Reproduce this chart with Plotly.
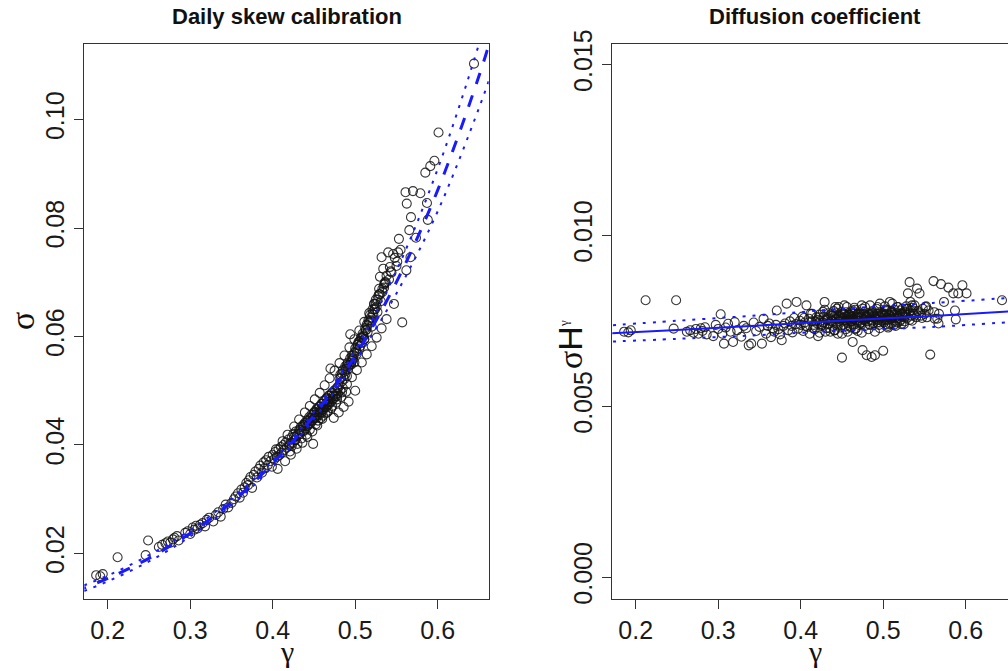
import plotly.graph_objects as go

# ---------------- data ----------------
# each point: gamma, sigma (left panel), sigma*H^gamma (right panel)
points = [
    (0.186, 0.0160, 0.00718), (0.191, 0.0158, 0.00716), (0.194, 0.0162, 0.00722),
    (0.212, 0.0193, 0.00810), (0.246, 0.0197, 0.00727), (0.249, 0.0224, 0.00810),
    (0.262, 0.0212, 0.00718), (0.266, 0.0216, 0.00722), (0.270, 0.0219, 0.00715),
    (0.273, 0.0222, 0.00726), (0.276, 0.0220, 0.00712), (0.279, 0.0226, 0.00728),
    (0.281, 0.0229, 0.00720), (0.284, 0.0232, 0.00731), (0.286, 0.0224, 0.00710),
    (0.294, 0.0238, 0.00705), (0.297, 0.0241, 0.00738), (0.300, 0.0236, 0.00726),
    (0.303, 0.0248, 0.00769), (0.305, 0.0244, 0.00712), (0.307, 0.0251, 0.00683),
    (0.309, 0.0246, 0.00730), (0.312, 0.0253, 0.00741), (0.315, 0.0256, 0.00718),
    (0.318, 0.0250, 0.00688), (0.320, 0.0262, 0.00746), (0.323, 0.0266, 0.00722),
    (0.328, 0.0259, 0.00703), (0.331, 0.0271, 0.00735), (0.334, 0.0276, 0.00728),
    (0.337, 0.0268, 0.00678), (0.340, 0.0282, 0.00683), (0.343, 0.0290, 0.00745),
    (0.346, 0.0285, 0.00720), (0.350, 0.0293, 0.00732), (0.353, 0.0300, 0.00683),
    (0.355, 0.0305, 0.00756), (0.358, 0.0311, 0.00712), (0.360, 0.0303, 0.00735),
    (0.362, 0.0318, 0.00742), (0.364, 0.0312, 0.00702), (0.366, 0.0322, 0.00728),
    (0.368, 0.0330, 0.00718), (0.370, 0.0326, 0.00738), (0.371, 0.0335, 0.00780),
    (0.373, 0.0341, 0.00725), (0.375, 0.0321, 0.00710), (0.377, 0.0345, 0.00693),
    (0.379, 0.0351, 0.00735), (0.381, 0.0340, 0.00742), (0.383, 0.0356, 0.00800),
    (0.385, 0.0362, 0.00722), (0.387, 0.0349, 0.00748), (0.389, 0.0368, 0.00735),
    (0.390, 0.0357, 0.00716), (0.392, 0.0372, 0.00758), (0.394, 0.0363, 0.00740),
    (0.395, 0.0378, 0.00805), (0.397, 0.0370, 0.00727), (0.399, 0.0360, 0.00750),
    (0.400, 0.0382, 0.00738), (0.402, 0.0374, 0.00762), (0.403, 0.0387, 0.00720),
    (0.405, 0.0378, 0.00745), (0.407, 0.0392, 0.00795), (0.408, 0.0381, 0.00732),
    (0.410, 0.0396, 0.00756), (0.411, 0.0386, 0.00712), (0.413, 0.0400, 0.00748),
    (0.414, 0.0391, 0.00770), (0.416, 0.0405, 0.00738), (0.417, 0.0395, 0.00725),
    (0.419, 0.0410, 0.00760), (0.420, 0.0399, 0.00742), (0.421, 0.0388, 0.00705),
    (0.423, 0.0414, 0.00768), (0.424, 0.0404, 0.00750), (0.425, 0.0420, 0.00735),
    (0.427, 0.0409, 0.00776), (0.428, 0.0425, 0.00745), (0.429, 0.0416, 0.00805),
    (0.430, 0.0402, 0.00718), (0.432, 0.0428, 0.00758), (0.433, 0.0420, 0.00740),
    (0.434, 0.0433, 0.00772), (0.435, 0.0412, 0.00728), (0.437, 0.0437, 0.00750),
    (0.438, 0.0426, 0.00765), (0.439, 0.0441, 0.00735), (0.440, 0.0430, 0.00778),
    (0.441, 0.0419, 0.00722), (0.442, 0.0446, 0.00755), (0.443, 0.0436, 0.00742),
    (0.444, 0.0451, 0.00785), (0.445, 0.0428, 0.00712), (0.446, 0.0440, 0.00762),
    (0.447, 0.0456, 0.00748), (0.448, 0.0445, 0.00730), (0.449, 0.0402, 0.00775),
    (0.450, 0.0460, 0.00642), (0.451, 0.0450, 0.00758), (0.452, 0.0438, 0.00738),
    (0.453, 0.0466, 0.00770), (0.454, 0.0455, 0.00752), (0.455, 0.0445, 0.00725),
    (0.456, 0.0470, 0.00790), (0.457, 0.0460, 0.00745), (0.458, 0.0449, 0.00768),
    (0.459, 0.0476, 0.00735), (0.460, 0.0465, 0.00760), (0.461, 0.0454, 0.00748),
    (0.462, 0.0481, 0.00775), (0.463, 0.0470, 0.00688), (0.464, 0.0458, 0.00755),
    (0.465, 0.0486, 0.00740), (0.466, 0.0474, 0.00782), (0.467, 0.0463, 0.00728),
    (0.468, 0.0491, 0.00762), (0.469, 0.0479, 0.00750), (0.470, 0.0541, 0.00770),
    (0.471, 0.0468, 0.00738), (0.472, 0.0496, 0.00758), (0.473, 0.0485, 0.00745),
    (0.474, 0.0450, 0.00795), (0.475, 0.0501, 0.00664), (0.476, 0.0490, 0.00752),
    (0.477, 0.0478, 0.00768), (0.478, 0.0506, 0.00735), (0.479, 0.0495, 0.00760),
    (0.480, 0.0460, 0.00649), (0.481, 0.0512, 0.00748), (0.482, 0.0500, 0.00772),
    (0.483, 0.0488, 0.00740), (0.484, 0.0517, 0.00765), (0.485, 0.0505, 0.00752),
    (0.486, 0.0470, 0.00644), (0.487, 0.0522, 0.00778), (0.488, 0.0530, 0.00742),
    (0.489, 0.0498, 0.00762), (0.490, 0.0527, 0.00649), (0.491, 0.0540, 0.00755),
    (0.492, 0.0480, 0.00785), (0.493, 0.0548, 0.00745), (0.494, 0.0604, 0.00770),
    (0.495, 0.0548, 0.00738), (0.496, 0.0555, 0.00800), (0.497, 0.0560, 0.00758),
    (0.498, 0.0565, 0.00750), (0.499, 0.0552, 0.00772), (0.500, 0.0500, 0.00662),
    (0.501, 0.0575, 0.00745), (0.502, 0.0568, 0.00765), (0.503, 0.0585, 0.00740),
    (0.504, 0.0590, 0.00778), (0.505, 0.0578, 0.00752), (0.506, 0.0592, 0.00735),
    (0.507, 0.0598, 0.00768), (0.508, 0.0588, 0.00805), (0.509, 0.0605, 0.00755),
    (0.510, 0.0600, 0.00742), (0.511, 0.0595, 0.00772), (0.512, 0.0615, 0.00760),
    (0.513, 0.0612, 0.00738), (0.514, 0.0622, 0.00782), (0.515, 0.0608, 0.00750),
    (0.516, 0.0630, 0.00765), (0.517, 0.0625, 0.00745), (0.518, 0.0640, 0.00790),
    (0.519, 0.0630, 0.00758), (0.520, 0.0618, 0.00770), (0.521, 0.0650, 0.00752),
    (0.522, 0.0640, 0.00740), (0.523, 0.0660, 0.00785), (0.524, 0.0650, 0.00762),
    (0.525, 0.0668, 0.00775), (0.526, 0.0655, 0.00748), (0.527, 0.0645, 0.00768),
    (0.528, 0.0675, 0.00792), (0.529, 0.0688, 0.00758), (0.530, 0.0710, 0.00830),
    (0.531, 0.0665, 0.00772), (0.532, 0.0746, 0.00863), (0.533, 0.0682, 0.00780),
    (0.534, 0.0725, 0.00765), (0.535, 0.0690, 0.00750), (0.536, 0.0700, 0.00788),
    (0.537, 0.0700, 0.00770), (0.538, 0.0712, 0.00795), (0.540, 0.0755, 0.00760),
    (0.541, 0.0705, 0.00844), (0.542, 0.0728, 0.00778), (0.544, 0.0718, 0.00830),
    (0.546, 0.0752, 0.00765), (0.548, 0.0745, 0.00785), (0.550, 0.0730, 0.00770),
    (0.552, 0.0755, 0.00792), (0.553, 0.0780, 0.00760), (0.555, 0.0760, 0.00780),
    (0.557, 0.0626, 0.00651), (0.561, 0.0866, 0.00866), (0.562, 0.0722, 0.00775),
    (0.5625, 0.0845, 0.00756), (0.5656, 0.0796, 0.00756), (0.567, 0.0746, 0.00742),
    (0.5676, 0.0820, 0.00770), (0.570, 0.0868, 0.00857), (0.5737, 0.0782, 0.00805),
    (0.579, 0.0864, 0.00847), (0.585, 0.0902, 0.00830), (0.587, 0.0846, 0.00780),
    (0.588, 0.0815, 0.00754), (0.591, 0.0914, 0.00830), (0.596, 0.0924, 0.00854),
    (0.601, 0.0976, 0.00830), (0.644, 0.1103, 0.00810),
    # dense core
    (0.421, 0.0402, 0.00752), (0.423, 0.0398, 0.00715), (0.426, 0.0415, 0.00745),
    (0.428, 0.0410, 0.00762), (0.431, 0.0421, 0.00728), (0.433, 0.0427, 0.00755),
    (0.436, 0.0425, 0.00768), (0.438, 0.0436, 0.00748), (0.440, 0.0440, 0.00760),
    (0.441, 0.0434, 0.00722), (0.443, 0.0444, 0.00772), (0.444, 0.0439, 0.00756),
    (0.446, 0.0450, 0.00790), (0.447, 0.0444, 0.00765), (0.449, 0.0455, 0.00752),
    (0.450, 0.0449, 0.00712), (0.451, 0.0461, 0.00770), (0.452, 0.0455, 0.00758),
    (0.453, 0.0450, 0.00795), (0.454, 0.0466, 0.00762), (0.455, 0.0460, 0.00775),
    (0.456, 0.0455, 0.00750), (0.457, 0.0471, 0.00718), (0.458, 0.0465, 0.00758),
    (0.459, 0.0460, 0.00768), (0.460, 0.0476, 0.00752), (0.461, 0.0470, 0.00730),
    (0.462, 0.0466, 0.00762), (0.463, 0.0481, 0.00755), (0.464, 0.0475, 0.00770),
    (0.465, 0.0470, 0.00788), (0.466, 0.0486, 0.00760), (0.467, 0.0480, 0.00752),
    (0.468, 0.0475, 0.00768), (0.469, 0.0491, 0.00720), (0.470, 0.0485, 0.00758),
    (0.471, 0.0480, 0.00775), (0.472, 0.0496, 0.00750), (0.473, 0.0490, 0.00762),
    (0.474, 0.0486, 0.00715), (0.476, 0.0500, 0.00770), (0.477, 0.0495, 0.00755),
    (0.478, 0.0490, 0.00790), (0.479, 0.0506, 0.00762), (0.481, 0.0522, 0.00758),
    (0.482, 0.0530, 0.00725), (0.483, 0.0524, 0.00768), (0.484, 0.0532, 0.00795),
    (0.485, 0.0538, 0.00760), (0.487, 0.0535, 0.00772), (0.488, 0.0545, 0.00750),
    (0.489, 0.0540, 0.00765), (0.490, 0.0548, 0.00718), (0.491, 0.0552, 0.00758),
    (0.492, 0.0546, 0.00770), (0.494, 0.0560, 0.00752), (0.495, 0.0552, 0.00762),
    (0.496, 0.0565, 0.00728), (0.497, 0.0558, 0.00775), (0.499, 0.0570, 0.00758),
    (0.500, 0.0578, 0.00765), (0.502, 0.0572, 0.00792), (0.503, 0.0585, 0.00770),
    (0.505, 0.0590, 0.00760), (0.506, 0.0582, 0.00730), (0.508, 0.0598, 0.00765),
    (0.510, 0.0602, 0.00778), (0.511, 0.0595, 0.00800), (0.513, 0.0612, 0.00768),
    (0.515, 0.0620, 0.00735), (0.517, 0.0628, 0.00772), (0.519, 0.0635, 0.00765),
    (0.521, 0.0642, 0.00780), (0.523, 0.0650, 0.00770), (0.525, 0.0660, 0.00740),
    (0.527, 0.0668, 0.00775), (0.530, 0.0678, 0.00785), (0.533, 0.0688, 0.00805),
    (0.536, 0.0698, 0.00780),
    # wider spread around the core
    (0.404, 0.0392, 0.00758), (0.406, 0.0356, 0.00735), (0.412, 0.0407, 0.00770),
    (0.415, 0.0370, 0.00728), (0.418, 0.0419, 0.00748), (0.422, 0.0382, 0.00760),
    (0.426, 0.0434, 0.00738), (0.429, 0.0393, 0.00782), (0.432, 0.0447, 0.00752),
    (0.436, 0.0404, 0.00718), (0.439, 0.0460, 0.00765), (0.442, 0.0415, 0.00790),
    (0.445, 0.0472, 0.00740), (0.448, 0.0425, 0.00758), (0.451, 0.0484, 0.00772),
    (0.454, 0.0436, 0.00733), (0.457, 0.0496, 0.00762), (0.460, 0.0448, 0.00748),
    (0.463, 0.0510, 0.00780), (0.466, 0.0460, 0.00725), (0.469, 0.0523, 0.00770),
    (0.472, 0.0472, 0.00742), (0.475, 0.0537, 0.00785), (0.478, 0.0484, 0.00752),
    (0.481, 0.0551, 0.00762), (0.484, 0.0497, 0.00738), (0.487, 0.0565, 0.00775),
    (0.490, 0.0512, 0.00760), (0.493, 0.0580, 0.00790), (0.496, 0.0525, 0.00745),
    (0.499, 0.0595, 0.00768), (0.502, 0.0538, 0.00752), (0.505, 0.0611, 0.00782),
    (0.508, 0.0552, 0.00740), (0.511, 0.0627, 0.00775), (0.514, 0.0567, 0.00758),
    (0.517, 0.0643, 0.00790), (0.520, 0.0582, 0.00748), (0.523, 0.0660, 0.00772),
    (0.526, 0.0598, 0.00760), (0.529, 0.0678, 0.00785), (0.532, 0.0615, 0.00752),
    (0.535, 0.0696, 0.00795), (0.538, 0.0632, 0.00765), (0.543, 0.0720, 0.00772),
    (0.547, 0.0660, 0.00758), (0.551, 0.0738, 0.00790),
]
gamma = [p[0] for p in points]
sigma = [p[1] for p in points]
diffusion = [p[2] for p in points]

# left panel fitted curve and dotted bands
fit_gamma = [0.16, 0.20, 0.25, 0.30, 0.35, 0.40, 0.45, 0.50, 0.55, 0.60, 0.65, 0.67]
fit_sigma = [0.01294, 0.01539, 0.01911, 0.02373, 0.02946, 0.03660, 0.04544,
             0.05641, 0.07004, 0.08698, 0.1080, 0.1178]
fit_sigma_hi = [0.01346, 0.01593, 0.01968, 0.02432, 0.03005, 0.03715, 0.04608,
                0.05743, 0.07214, 0.09089, 0.1139, 0.1249]
fit_sigma_lo = [0.01242, 0.01485, 0.01854, 0.02314, 0.02887, 0.03605, 0.04480,
                0.05539, 0.06794, 0.08307, 0.1021, 0.1107]

# right panel fitted line and dotted bands
dfit_gamma = [0.16, 0.25, 0.35, 0.44, 0.56, 0.66]
dfit = [0.00712, 0.00723, 0.00736, 0.00749, 0.00764, 0.00778]
dfit_hi = [0.00735, 0.00750, 0.00766, 0.00783, 0.00802, 0.00818]
dfit_lo = [0.00688, 0.00697, 0.00708, 0.00720, 0.00732, 0.00747]

x_ticks = [0.2, 0.3, 0.4, 0.5, 0.6]
x_ticktext = ["0.2", "0.3", "0.4", "0.5", "0.6"]
y1_ticks = [0.02, 0.04, 0.06, 0.08, 0.10]
y1_ticktext = ["0.02", "0.04", "0.06", "0.08", "0.10"]
y2_ticks = [0.000, 0.005, 0.010, 0.015]
y2_ticktext = ["0.000", "0.005", "0.010", "0.015"]

# ---------------- figure ----------------
W, H = 1008, 671
def px(x):
    return x / W
def py(y):
    return (H - y) / H

BLUE = "#1a1aff"
marker = dict(symbol="circle-open", size=9, color="rgba(20,20,20,0.85)",
              line=dict(width=1.1, color="rgba(20,20,20,0.85)"))

fig = go.Figure()
fig.add_trace(go.Scatter(x=gamma, y=sigma, mode="markers", marker=marker,
                         xaxis="x", yaxis="y", showlegend=False))
fig.add_trace(go.Scatter(x=fit_gamma, y=fit_sigma_hi, mode="lines", line_shape="spline",
                         line=dict(color=BLUE, width=2, dash="3px,7px"),
                         xaxis="x", yaxis="y", showlegend=False))
fig.add_trace(go.Scatter(x=fit_gamma, y=fit_sigma_lo, mode="lines", line_shape="spline",
                         line=dict(color=BLUE, width=2, dash="3px,7px"),
                         xaxis="x", yaxis="y", showlegend=False))
fig.add_trace(go.Scatter(x=fit_gamma, y=fit_sigma, mode="lines", line_shape="spline",
                         line=dict(color=BLUE, width=3, dash="12px,12px"),
                         xaxis="x", yaxis="y", showlegend=False))

fig.add_trace(go.Scatter(x=gamma, y=diffusion, mode="markers", marker=marker,
                         xaxis="x2", yaxis="y2", showlegend=False))
fig.add_trace(go.Scatter(x=dfit_gamma, y=dfit_hi, mode="lines", line_shape="spline",
                         line=dict(color=BLUE, width=2, dash="3px,7px"),
                         xaxis="x2", yaxis="y2", showlegend=False))
fig.add_trace(go.Scatter(x=dfit_gamma, y=dfit_lo, mode="lines", line_shape="spline",
                         line=dict(color=BLUE, width=2, dash="3px,7px"),
                         xaxis="x2", yaxis="y2", showlegend=False))
fig.add_trace(go.Scatter(x=dfit_gamma, y=dfit, mode="lines", line_shape="spline",
                         line=dict(color=BLUE, width=2),
                         xaxis="x2", yaxis="y2", showlegend=False))

tickfont = dict(family="Liberation Sans, Arial, sans-serif", size=25, color="#1a1a1a")
common_axis = dict(showgrid=False, zeroline=False, showline=True, linecolor="#333",
                   linewidth=1, ticks="outside", ticklen=9, tickwidth=1,
                   tickcolor="#333", tickfont=tickfont, automargin=False)

ydom = [py(599), py(43.5)]
fig.update_layout(
    template="none",
    width=W, height=H, autosize=False,
    margin=dict(l=0, r=0, t=0, b=0, pad=0),
    paper_bgcolor="white", plot_bgcolor="white",
    xaxis=dict(domain=[px(84.3), px(488.7)], range=[0.17164, 0.66182], anchor="y",
               tickvals=x_ticks, ticktext=x_ticktext, mirror=True, **common_axis),
    yaxis=dict(domain=ydom, range=[0.01161, 0.11401], anchor="x",
               tickvals=y1_ticks, ticktext=y1_ticktext, tickangle=-90, mirror=True,
               **common_axis),
    xaxis2=dict(domain=[px(612.3), 1.0], range=[0.17164, 0.65127], anchor="y2",
                tickvals=x_ticks, ticktext=x_ticktext, mirror=True, **common_axis),
    yaxis2=dict(domain=ydom, range=[-0.00064, 0.01561], anchor="x2",
                tickvals=y2_ticks, ticktext=y2_ticktext, tickangle=-90, mirror=False,
                **common_axis),
)

title_font = dict(family="Liberation Sans, Arial, sans-serif", size=22, color="#111")
label_font = dict(family="Liberation Serif, DejaVu Serif, serif", size=34, color="#111")
gamma_font = dict(family="Liberation Serif, DejaVu Serif, serif", size=30, color="#111")
ann = [
    dict(text="<b>Daily skew calibration</b>", x=px(286.5), y=py(17), font=title_font),
    dict(text="<b>Diffusion coefficient</b>", x=px(814.6), y=py(17), font=title_font),
    dict(text="γ", x=px(286.5), y=py(651), font=gamma_font),
    dict(text="γ", x=px(814.6), y=py(651), font=gamma_font),
    dict(text="σ", x=px(22), y=py(321), font=label_font, textangle=-90),
    dict(text='σ<span style="font-family:Liberation Sans">H</span>'
              '<sup><span style="font-size:13px">γ</span></sup>',
         x=px(570), y=py(345), font=label_font, textangle=-90),
]
for a in ann:
    a.update(xref="paper", yref="paper", showarrow=False,
             xanchor="center", yanchor="middle")
fig.update_layout(annotations=ann)

fig.write_html("out.html")
